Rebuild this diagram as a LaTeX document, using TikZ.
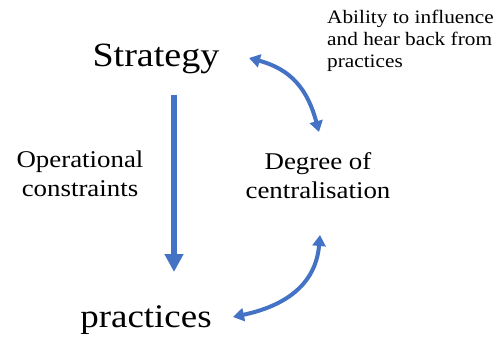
\documentclass[tikz,border=0pt]{standalone}
\usepackage{fontspec}
\setmainfont{Liberation Serif}[FakeStretch=1.12]
\usetikzlibrary{arrows.meta}
\definecolor{obl}{HTML}{4472C4}
\tikzset{
  big/.style={font=\fontsize{34}{40}\selectfont, inner sep=0pt, anchor=base},
  mid/.style={font=\fontsize{24}{29}\selectfont, inner sep=0pt, align=center, anchor=base},
  small/.style={font=\fontsize{19}{22}\selectfont, inner sep=0pt, align=left, anchor=base west},
  thickarrow/.style={obl, line width=6pt, -{Triangle[width=18pt,length=18pt]}},
  curvearrow/.style={obl, line width=4pt, {Triangle[width=13pt,length=11pt]}-{Triangle[width=13pt,length=11pt]}}
}
\begin{document}
\begin{tikzpicture}[x=1pt,y=1pt]
\useasboundingbox (0,0) rectangle (496,338);
\node[big] (strategy) at (156,271) {Strategy};
\node[big, font=\fontsize{33}{40}\selectfont] (practices) at (146,11) {practices};
\node[mid] (oper) at (80,142) {Operational\\constraints};
\node[mid] (degree) at (318,140) {Degree of\\centralisation};
\node[small] (ability) at (327,270) {Ability to influence\\and hear back from\\practices};
\coordinate (vtop) at (174,243);
\coordinate (vbot) at (174,66);
\draw[thickarrow] (vtop) -- (vbot);
\coordinate (A) at (249,280);
\coordinate (B) at (319,206);
\draw[curvearrow] (A) to[out=-15,in=105,looseness=1.1] (B);
\coordinate (C) at (320,103);
\coordinate (D) at (233,21);
\draw[curvearrow] (C) to[out=-95,in=12,looseness=1.1] (D);
\end{tikzpicture}
\end{document}
